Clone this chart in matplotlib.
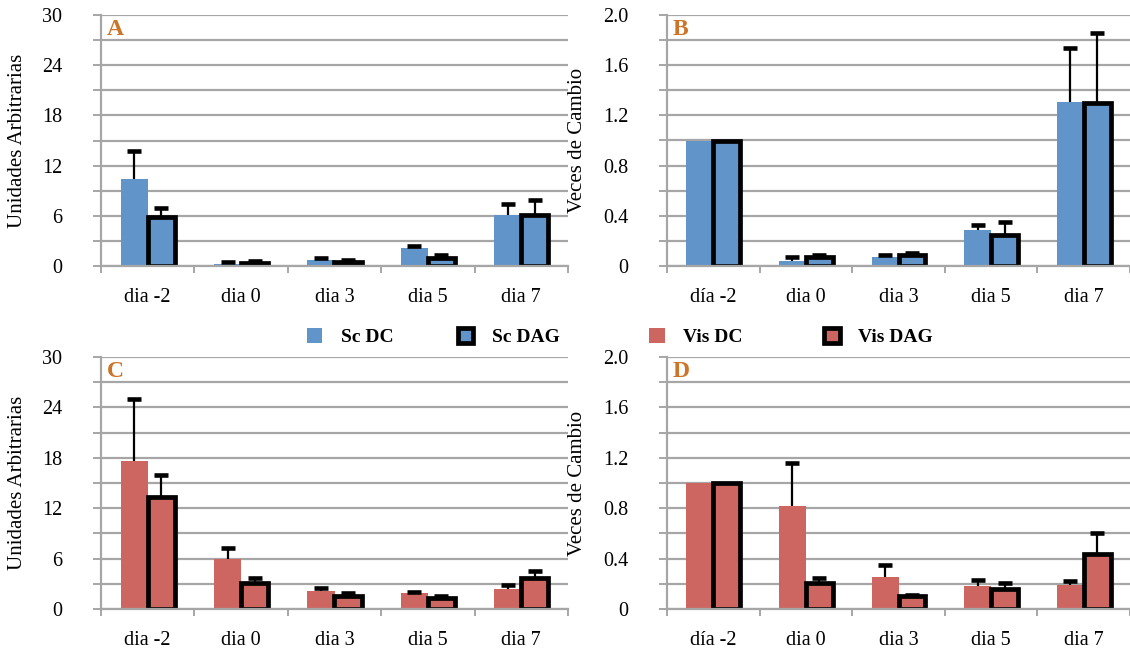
import numpy as np
import matplotlib
matplotlib.use("Agg")
import matplotlib.pyplot as plt
from matplotlib.ticker import MultipleLocator, FixedLocator, NullFormatter

plt.rcParams['font.family'] = ['Liberation Serif', 'DejaVu Serif']

# ---------------------------------------------------------
# data
# ---------------------------------------------------------

dias_ua = ["dia -2", "dia 0", "dia 3", "dia 5", "dia 7"]
dias_fc = ["día -2", "dia 0", "dia 3", "dia 5", "dia 7"]

# Sc, unidades arbitrarias
sc_dc_ua = [10.4, 0.25, 0.7, 2.1, 6.05]
sc_dc_ua_err = [3.4, 0.25, 0.2, 0.25, 1.4]
sc_dag_ua = [5.8, 0.3, 0.5, 1.0, 6.15]
sc_dag_ua_err = [1.1, 0.3, 0.2, 0.3, 1.75]

# Sc, veces de cambio
sc_dc_fc = [1.0, 0.04, 0.07, 0.285, 1.305]
sc_dc_fc_err = [0.0, 0.03, 0.02, 0.045, 0.43]
sc_dag_fc = [1.0, 0.07, 0.085, 0.245, 1.30]
sc_dag_fc_err = [0.0, 0.02, 0.015, 0.105, 0.56]

# Vis, unidades arbitrarias
vis_dc_ua = [17.65, 5.95, 2.15, 1.9, 2.4]
vis_dc_ua_err = [7.3, 1.35, 0.3, 0.15, 0.45]
vis_dag_ua = [13.35, 3.05, 1.6, 1.3, 3.75]
vis_dag_ua_err = [2.6, 0.7, 0.35, 0.3, 0.75]

# Vis, veces de cambio
vis_dc_fc = [1.0, 0.815, 0.255, 0.18, 0.19]
vis_dc_fc_err = [0.0, 0.34, 0.095, 0.05, 0.03]
vis_dag_fc = [1.0, 0.205, 0.10, 0.16, 0.44]
vis_dag_fc_err = [0.0, 0.04, 0.01, 0.05, 0.16]

BLUE = "#6194c9"
RED = "#cd6660"
GRID = "#a6a6a6"
LETTER = "#cc7428"

W, H = 1130, 655
fig = plt.figure(figsize=(W / 100, H / 100), dpi=100)


def px_axes(x0, y_top, x1, y_bot):
    return fig.add_axes([x0 / W, 1 - y_bot / H, (x1 - x0) / W, (y_bot - y_top) / H])


def upper_err(ax, x, y, err):
    # only the upper half of the error bar, skipped when there is no spread
    x, y, err = np.asarray(x), np.asarray(y), np.asarray(err)
    keep = err > 0
    _, caps, _ = ax.errorbar(x[keep], y[keep], yerr=[np.zeros(keep.sum()), err[keep]],
                             fmt="none", ecolor="black", elinewidth=1.6,
                             capsize=4.8, capthick=3.3, zorder=4)
    caps[0].set_visible(False)


def panel(ax, labels, dc, dc_err, dag, dag_err, color, ymax, major, minor,
          ylabel, label_x, letter, fmt):
    x = np.arange(len(labels))
    w = 0.29
    b1 = ax.bar(x - w / 2, dc, w, color=color, zorder=3)
    b2 = ax.bar(x + w / 2, dag, w, color=color, edgecolor="black",
                linewidth=3.4, zorder=3)
    upper_err(ax, x - w / 2, dc, dc_err)
    upper_err(ax, x + w / 2, dag, dag_err)

    ax.set_xlim(-0.5, len(labels) - 0.5)
    ax.set_ylim(0, ymax)
    ax.yaxis.set_major_locator(MultipleLocator(major))
    ax.yaxis.set_minor_locator(MultipleLocator(minor))
    ax.yaxis.set_major_formatter(fmt)
    ax.yaxis.set_minor_formatter(NullFormatter())
    ax.grid(axis="y", which="both", color=GRID, linewidth=1.6, zorder=0)

    ax.set_xticks(x)
    ax.set_xticklabels(labels, fontsize=14.5)
    ax.xaxis.set_minor_locator(FixedLocator(np.arange(len(labels) + 1) - 0.5))
    ax.tick_params(axis="x", which="major", length=0, pad=16)
    ax.tick_params(axis="x", which="minor", length=5, width=1.4, color=GRID)
    ax.tick_params(axis="y", which="both", length=6, width=1.4, color=GRID,
                   labelsize=14.5, pad=22)

    for s in ["top", "right"]:
        ax.spines[s].set_visible(False)
    for s in ["left", "bottom"]:
        ax.spines[s].set_color(GRID)
        ax.spines[s].set_linewidth(1.6)
    ax.spines["bottom"].set_zorder(5)

    ax.set_ylabel(ylabel, fontsize=15)
    ax.yaxis.set_label_coords(label_x, 0.5)
    ax.text(0.012, 0.985, letter, transform=ax.transAxes, ha="left", va="top",
            fontsize=17, fontweight="bold", color=LETTER)
    return b1, b2


int_fmt = plt.FuncFormatter(lambda v, p: f"{v:.0f}")
dec_fmt = plt.FuncFormatter(lambda v, p: "0" if v == 0 else f"{v:.1f}")

ax_a = px_axes(101, 15, 568, 266)
ax_b = px_axes(667, 15, 1130, 266)
ax_c = px_axes(101, 357, 568, 609)
ax_d = px_axes(667, 357, 1130, 609)

sc1, sc2 = panel(ax_a, dias_ua, sc_dc_ua, sc_dc_ua_err, sc_dag_ua, sc_dag_ua_err,
                 BLUE, 30, 6, 3, "Unidades Arbitrarias", -0.158, "A", int_fmt)
panel(ax_b, dias_fc, sc_dc_fc, sc_dc_fc_err, sc_dag_fc, sc_dag_fc_err,
      BLUE, 2.0, 0.4, 0.2, "Veces de Cambio", -0.173, "B", dec_fmt)
vis1, vis2 = panel(ax_c, dias_ua, vis_dc_ua, vis_dc_ua_err, vis_dag_ua, vis_dag_ua_err,
                   RED, 30, 6, 3, "Unidades Arbitrarias", -0.158, "C", int_fmt)
panel(ax_d, dias_fc, vis_dc_fc, vis_dc_fc_err, vis_dag_fc, vis_dag_fc_err,
      RED, 2.0, 0.4, 0.2, "Veces de Cambio", -0.173, "D", dec_fmt)

leg_kw = dict(loc="center", ncol=2, frameon=False, handlelength=0.8,
              handleheight=0.8, handletextpad=0.95,
              prop=dict(family="Liberation Serif", weight="bold", size=14))
fig.legend([sc1, sc2], ["Sc DC", "Sc DAG"], bbox_to_anchor=(433 / W, 1 - 337 / H),
           columnspacing=3.3, **leg_kw)
fig.legend([vis1, vis2], ["Vis DC", "Vis DAG"], bbox_to_anchor=(791 / W, 1 - 337 / H),
           columnspacing=4.2, **leg_kw)

fig.savefig("out.png", dpi=100)
